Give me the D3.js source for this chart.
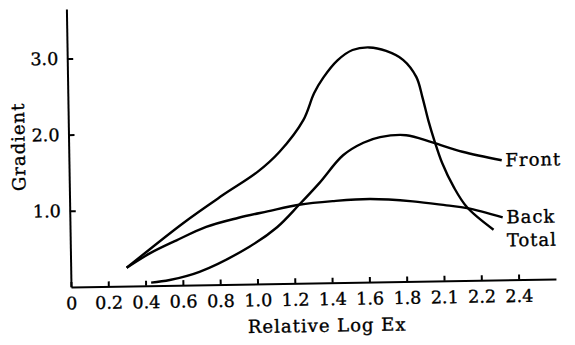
<!DOCTYPE html>
<html>
<head>
<meta charset="utf-8">
<style>
  body { margin: 0; background: #fff; }
  svg { display: block; }
  .axis path, .axis line { stroke: #000; stroke-width: 2; }
  .axis text { font-family: "DejaVu Serif", serif; font-size: 17.5px; fill: #000; stroke: #000; stroke-width: 0.35px; }
  .title { font-family: "DejaVu Serif", serif; font-size: 18px; letter-spacing: 1px; fill: #000; stroke: #000; stroke-width: 0.35px; }
</style>
</head>
<body>
<svg width="575" height="345"></svg>
<script src="https://d3js.org/d3.v7.min.js"></script>
<script>
// tick values and the labels printed under them (the scan prints 2.1 where 2.0 sits)
const xTickValues = [0, 0.2, 0.4, 0.6, 0.8, 1.0, 1.2, 1.4, 1.6, 1.8, 2.0, 2.2, 2.4];
const xTickLabels = ["0", "0.2", "0.4", "0.6", "0.8", "1.0", "1.2", "1.4", "1.6", "1.8", "2.1", "2.2", "2.4"];
const yTickValues = [1, 2, 3];
const yTickLabels = ["1.0", "2.0", "3.0"];

// Total
const totalX = [0.30, 0.61, 0.82, 1.01, 1.13, 1.26, 1.32, 1.37, 1.45, 1.53, 1.62, 1.71, 1.80, 1.87, 1.90, 1.93, 1.96, 2.00, 2.06, 2.13, 2.27];
const totalY = [0.24, 0.82, 1.17, 1.47, 1.73, 2.14, 2.49, 2.69, 2.92, 3.05, 3.08, 3.03, 2.91, 2.68, 2.42, 2.11, 1.85, 1.55, 1.23, 0.96, 0.66];
// Back
const backX = [0.30, 0.43, 0.57, 0.73, 0.90, 1.06, 1.23, 1.41, 1.61, 1.84, 2.02, 2.13, 2.32];
const backY = [0.24, 0.43, 0.59, 0.76, 0.87, 0.95, 1.03, 1.07, 1.09, 1.05, 0.99, 0.95, 0.82];
// Front
const frontX = [0.43, 0.53, 0.69, 0.96, 1.11, 1.23, 1.34, 1.47, 1.58, 1.67, 1.81, 1.95, 2.11, 2.32];
const frontY = [0.04, 0.07, 0.17, 0.49, 0.74, 1.03, 1.31, 1.67, 1.83, 1.90, 1.92, 1.82, 1.69, 1.57];

const svg = d3.select("svg");
// the scanned figure sits slightly tilted
const g = svg.append("g").attr("transform", "rotate(-0.95, 71, 287)");

const x = d3.scaleLinear().domain([0, 2.6]).range([71, 556]);
const y = d3.scaleLinear().domain([0, 3.65]).range([287, 9]);

g.append("g")
    .attr("class", "axis")
    .attr("transform", `translate(0,${y(0)})`)
    .call(d3.axisBottom(x).tickValues(xTickValues)
        .tickFormat((d, i) => xTickLabels[i])
        .tickSize(-5).tickSizeOuter(0).tickPadding(10));

g.append("g")
    .attr("class", "axis")
    .attr("transform", `translate(${x(0)},0)`)
    .call(d3.axisLeft(y).tickValues(yTickValues)
        .tickFormat((d, i) => yTickLabels[i])
        .tickSize(-6).tickSizeOuter(0).tickPadding(9));

const line = d3.line()
    .x(d => x(d[0]))
    .y(d => y(d[1]))
    .curve(d3.curveCatmullRom.alpha(0.5));

const series = [
    { name: "Front", pts: d3.zip(frontX, frontY), dy: 6 },
    { name: "Back", pts: d3.zip(backX, backY), dy: 6 },
    { name: "Total", pts: d3.zip(totalX, totalY), dy: 17 }
];

g.selectAll(".curve")
    .data(series)
    .join("path")
    .attr("class", "curve")
    .attr("d", d => line(d.pts))
    .attr("fill", "none")
    .attr("stroke", "#000")
    .attr("stroke-width", 2.4);

g.selectAll(".lab")
    .data(series)
    .join("text")
    .attr("class", "title lab")
    .attr("x", x(2.34))
    .attr("y", d => y(d.pts[d.pts.length - 1][1]) + d.dy)
    .text(d => d.name);

g.append("text")
    .attr("class", "title")
    .attr("text-anchor", "middle")
    .attr("x", x(1.37))
    .attr("y", 336)
    .text("Relative Log Ex");

g.append("text")
    .attr("class", "title")
    .attr("text-anchor", "middle")
    .attr("transform", `translate(27,${y(1.85)}) rotate(-90)`)
    .text("Gradient");
</script>
</body>
</html>
